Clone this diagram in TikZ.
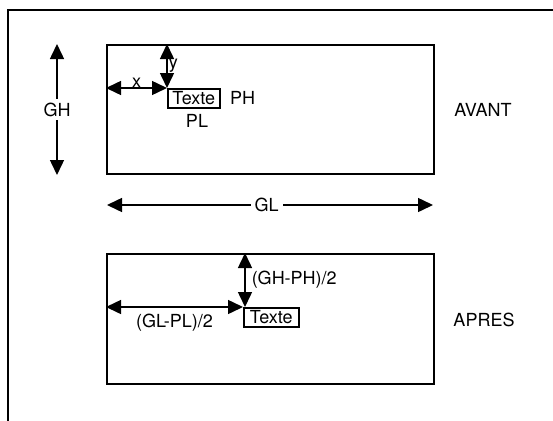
\documentclass[tikz,border=0pt]{standalone}
\usepackage{fontspec}
\setmainfont{TeX Gyre Heros}
\usetikzlibrary{arrows.meta}
\tikzset{cote/.style={{Triangle[length=15pt,width=14pt]}-{Triangle[length=15pt,width=14pt]}, line width=1.5pt}}
\tikzset{cadre/.style={draw, line width=1.8pt, inner sep=0pt}}
\tikzset{boite/.style={draw, line width=1.5pt, inner sep=0pt, minimum height=19pt}}

\begin{document}
\begin{tikzpicture}[x=1pt,y=-1pt,font=\fontsize{18}{21}\selectfont]
\useasboundingbox (0,0) rectangle (553,420);
\draw[line width=1.8pt] (8,460) -- (8,10) -- (580,10);
% avant
\node[cadre, minimum width=327pt, minimum height=129pt, anchor=north west] (avant) at (106,44) {};
\node[boite, minimum width=52pt, anchor=north west] (t1) at (167,88) {Texte};
\coordinate (gh1) at (57,44); \coordinate (gh2) at (57,175);
\draw[cote] (gh1) -- node[fill=white, inner sep=4pt] (gh) {GH} (gh2);
\draw[cote] (avant.west |- t1.north west) -- node[above, inner sep=0pt] (x) {x} (t1.north west);
\draw[cote] (t1.north west |- avant.north) -- node[right, inner sep=1pt] (y) {y} (t1.north west);
\node[anchor=west] (ph) at ([xshift=6pt]t1.east) {PH};
\node (pl) at (197,121) {PL};
\node (lavant) at (483,110) {AVANT};
\coordinate (gl1) at (107,205); \coordinate (gl2) at (433,205);
\draw[cote] (gl1) -- node[fill=white, inner sep=4pt, pos=0.49] (gl) {GL} (gl2);
% apres
\node[cadre, minimum width=327pt, minimum height=130pt, anchor=north west] (apres) at (106,253) {};
\node[boite, minimum width=55pt, anchor=north west] (t2) at (243,307) {Texte};
\draw[cote] ([xshift=2pt]t2.north west |- apres.north) -- node[right, inner sep=6pt] (ghph) {(GH-PH)/2} ([xshift=2pt]t2.north west);
\draw[cote] (apres.west |- t2.north west) -- node[below, inner sep=6pt] (glpl) {(GL-PL)/2} (t2.north west);
\node (lapres) at (484,320) {APRES};
\end{tikzpicture}
\end{document}
